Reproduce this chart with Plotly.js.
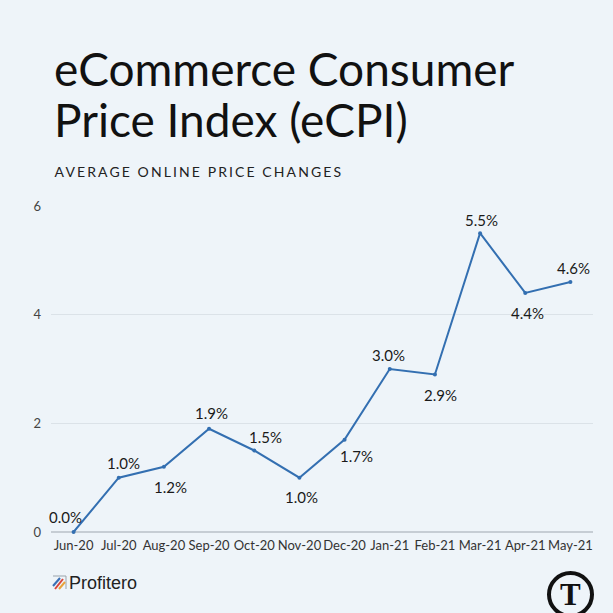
<!DOCTYPE html>
<html>
<head>
<meta charset="utf-8">
<script src="https://cdn.plot.ly/plotly-3.0.1.min.js"></script>
<style>
  html, body { margin: 0; padding: 0; background: #eef4f9; }
  #chart { width: 613px; height: 613px; }
</style>
</head>
<body>
<div id="chart"></div>
<script>
// ---- data ----
var months = ["Jun-20","Jul-20","Aug-20","Sep-20","Oct-20","Nov-20","Dec-20","Jan-21","Feb-21","Mar-21","Apr-21","May-21"];
var ecpi = [0.0, 1.0, 1.2, 1.9, 1.5, 1.0, 1.7, 3.0, 2.9, 5.5, 4.4, 4.6];
var labels = ecpi.map(function(v){ return v.toFixed(1) + "%"; });
var yTicks = [0, 2, 4, 6];

// ---- style: label offsets in pixels (x right, y up) ----
var labelDX = [-8, 5, 7, 2, 11, 2, 12, -1, 6, 1, 2, 3];
var labelDY = [15, 15, -20, 16, 14, -19, -16, 14, -21, 13, -20, 14];

var W = 613, H = 613;
var M = {l: 51, r: 20, t: 206, b: 81};
function px(x){ return (x - M.l) / (W - M.l - M.r); }
function py(y){ return (H - M.b - y) / (H - M.t - M.b); }

var lineColor = "#336fb1";

var trace = {
  x: months, y: ecpi, type: "scatter", mode: "lines+markers",
  line: {color: lineColor, width: 2},
  marker: {color: lineColor, size: 4},
  cliponaxis: false, hoverinfo: "skip"
};

var annotations = months.map(function(m, i){
  return {text: labels[i], x: m, y: ecpi[i], xref: "x", yref: "y",
          xshift: labelDX[i], yshift: labelDY[i], showarrow: false,
          xanchor: "center", yanchor: "middle",
          font: {family: "Lato, sans-serif", size: 15, color: "#1a1a1a"}};
});

annotations = annotations.concat([
  {text: "eCommerce Consumer", xref: "paper", yref: "paper", x: px(52), y: py(68),
   xanchor: "left", yanchor: "middle", showarrow: false,
   font: {family: "Lato, sans-serif", size: 46, color: "#111"}},
  {text: "Price Index (eCPI)", xref: "paper", yref: "paper", x: px(52), y: py(119),
   xanchor: "left", yanchor: "middle", showarrow: false,
   font: {family: "Lato, sans-serif", size: 46, color: "#111"}},
  {text: "AVERAGE ONLINE PRICE CHANGES", xref: "paper", yref: "paper", x: px(199), y: py(171),
   xanchor: "center", yanchor: "middle", showarrow: false,
   font: {family: "Lato, sans-serif", size: 14, color: "#222"}},
  {text: "Profitero", xref: "paper", yref: "paper", x: px(67), y: py(583),
   xanchor: "left", yanchor: "middle", showarrow: false,
   font: {family: "Liberation Sans, Arial, sans-serif", size: 18, color: "#222"}},
  {text: "<b>T</b>", xref: "paper", yref: "paper", x: px(570.5), y: py(594),
   xanchor: "center", yanchor: "middle", showarrow: false,
   font: {family: "Liberation Serif, serif", size: 31, color: "#111"}}
]);

var layout = {
  width: W, height: H,
  margin: M,
  paper_bgcolor: "#eef4f9", plot_bgcolor: "#eef4f9",
  showlegend: false,
  xaxis: {
    type: "category", range: [-0.5, 11.5], showgrid: false, zeroline: false,
    showline: false, ticks: "", tickangle: 0, fixedrange: true,
    tickfont: {family: "Lato, sans-serif", size: 13, color: "#333"},
    ticklabelstandoff: 4
  },
  yaxis: {
    range: [0, 6], tickvals: yTicks, ticktext: yTicks.map(String),
    showgrid: true, gridcolor: "#dbe2e8", gridwidth: 1,
    zeroline: true, zerolinecolor: "#c6cdd4", zerolinewidth: 1.5,
    showline: false, ticks: "", fixedrange: true,
    tickfont: {family: "Lato, sans-serif", size: 13, color: "#444"},
    ticklabelstandoff: 9
  },
  annotations: annotations,
  shapes: [
    // Profitero icon
    {type: "line", xref: "paper", yref: "paper", x0: px(53), y0: py(576), x1: px(66), y1: py(576), line: {color: "#9aa3ab", width: 1}},
    {type: "line", xref: "paper", yref: "paper", x0: px(66), y0: py(576), x1: px(66), y1: py(589), line: {color: "#9aa3ab", width: 1}},
    {type: "line", xref: "paper", yref: "paper", x0: px(53), y0: py(586), x1: px(60), y1: py(578), line: {color: "#3a6fb5", width: 2}},
    {type: "line", xref: "paper", yref: "paper", x0: px(55), y0: py(589), x1: px(63), y1: py(579), line: {color: "#d9443a", width: 2}},
    {type: "line", xref: "paper", yref: "paper", x0: px(59), y0: py(589), x1: px(65), y1: py(582), line: {color: "#e8a33c", width: 2}},
    // NAPS logo circle
    {type: "circle", xref: "paper", yref: "paper", x0: px(549), y0: py(573), x1: px(592), y1: py(616),
     line: {color: "#111", width: 4}, fillcolor: "rgba(0,0,0,0)"}
  ]
};

Plotly.newPlot("chart", [trace], layout, {displayModeBar: false, staticPlot: true}).then(function(gd){
  var anns = gd.querySelectorAll(".annotation-text");
  anns.forEach(function(t){
    if (t.textContent.indexOf("AVERAGE") === 0) { t.style.letterSpacing = "2.1px"; }
  });
});
</script>
</body>
</html>
